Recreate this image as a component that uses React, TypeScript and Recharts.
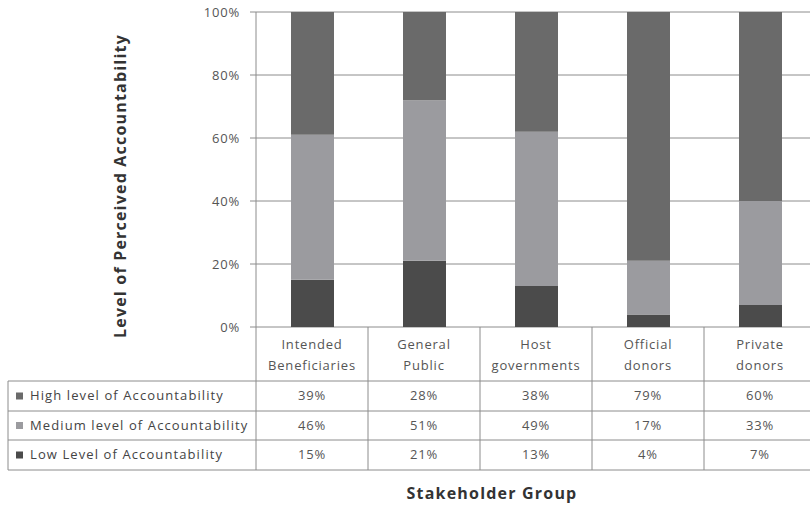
import React from "react";
import { BarChart, Bar, XAxis, YAxis, CartesianGrid } from "recharts";

// stakeholder groups, two-line labels for the table header
const groupNames = [
  "Intended Beneficiaries",
  "General Public",
  "Host governments",
  "Official donors",
  "Private donors",
];
const groupLines = [
  ["Intended", "Beneficiaries"],
  ["General", "Public"],
  ["Host", "governments"],
  ["Official", "donors"],
  ["Private", "donors"],
];

const highLevel = [39, 28, 38, 79, 60];
const mediumLevel = [46, 51, 49, 17, 33];
const lowLevel = [15, 21, 13, 4, 7];

const yTicks = [0, 20, 40, 60, 80, 100];

const seriesInfo = [
  { key: "high", label: "High level of Accountability", color: "#6a6a6a", values: highLevel },
  { key: "medium", label: "Medium level of Accountability", color: "#9b9b9f", values: mediumLevel },
  { key: "low", label: "Low Level of Accountability", color: "#4b4b4b", values: lowLevel },
];

const data = groupNames.map((g, i) => ({
  group: g,
  high: highLevel[i],
  medium: mediumLevel[i],
  low: lowLevel[i],
}));

const W = 816;
const H = 507;
const PLOT_BOTTOM = 327;
const BAND = (W - 256) / groupNames.length;
const ROW_TOPS = [381, 411, 440, 470];
const TABLE_LEFT = 8;
const LINE = "#8c8c8c";
const FONT = "'Open Sans', Lato, sans-serif";
const SPACING = 0.8;

const TableTick = (props: any) => {
  const { x, payload } = props;
  const i = groupNames.indexOf(payload.value);
  const y0 = PLOT_BOTTOM;
  return (
    <g>
      {i === 0 && (
        <line x1={x - BAND / 2} x2={x - BAND / 2} y1={y0} y2={ROW_TOPS[3]} stroke={LINE} />
      )}
      <line x1={x + BAND / 2} x2={x + BAND / 2} y1={y0} y2={ROW_TOPS[3]} stroke={LINE} />
      {groupLines[i].map((t, k) => (
        <text
          key={k}
          x={x}
          y={y0 + 19 + k * 21}
          textAnchor="middle"
          dominantBaseline="middle"
          fontSize={13}
          letterSpacing={SPACING}
          fill="#555"
          fontFamily={FONT}
        >
          {t}
        </text>
      ))}
      {seriesInfo.map((s, r) => (
        <text
          key={s.key}
          x={x}
          y={(ROW_TOPS[r] + ROW_TOPS[r + 1]) / 2 + 1}
          textAnchor="middle"
          dominantBaseline="middle"
          fontSize={13}
          letterSpacing={SPACING}
          fill="#555"
          fontFamily={FONT}
        >
          {s.values[i]}%
        </text>
      ))}
    </g>
  );
};

const App: React.FC = () => {
  return (
    <div
      style={{
        position: "absolute",
        top: 0,
        left: 0,
        width: 810,
        height: H,
        overflow: "hidden",
        background: "#fff",
        fontFamily: FONT,
      }}
    >
      <BarChart
        width={W}
        height={H}
        data={data}
        margin={{ top: 12, right: 0, left: 200, bottom: 0 }}
      >
        <CartesianGrid vertical={false} stroke={LINE} strokeWidth={1} />
        <YAxis
          type="number"
          domain={[0, 100]}
          ticks={yTicks}
          width={56}
          tickFormatter={(v: number) => `${v}%`}
          tickSize={6}
          tickMargin={10}
          axisLine={{ stroke: LINE }}
          tickLine={{ stroke: LINE }}
          tick={{ fill: "#555", fontSize: 13, fontFamily: FONT, letterSpacing: SPACING }}
          interval={0}
        />
        <XAxis
          dataKey="group"
          height={H - PLOT_BOTTOM}
          axisLine={false}
          tickLine={false}
          tickSize={0}
          tickMargin={0}
          interval={0}
          tick={<TableTick />}
        />
        <Bar dataKey="low" stackId="a" fill={seriesInfo[2].color} barSize={43} isAnimationActive={false} />
        <Bar dataKey="medium" stackId="a" fill={seriesInfo[1].color} barSize={43} isAnimationActive={false} />
        <Bar dataKey="high" stackId="a" fill={seriesInfo[0].color} barSize={43} isAnimationActive={false} />
      </BarChart>

      {/* legend column and horizontal rules of the data table */}
      <svg
        width={W}
        height={H}
        style={{ position: "absolute", top: 0, left: 0, pointerEvents: "none" }}
      >
        {ROW_TOPS.map((y) => (
          <line key={y} x1={TABLE_LEFT} x2={W} y1={y} y2={y} stroke={LINE} />
        ))}
        <line x1={TABLE_LEFT} x2={TABLE_LEFT} y1={ROW_TOPS[0]} y2={ROW_TOPS[3]} stroke={LINE} />
        {seriesInfo.map((s, r) => {
          const cy = (ROW_TOPS[r] + ROW_TOPS[r + 1]) / 2;
          return (
            <g key={s.key}>
              <rect x={16} y={cy - 3.5} width={7} height={7} fill={s.color} />
              <text
                x={30}
                y={cy + 1}
                dominantBaseline="middle"
                fontSize={13}
                letterSpacing={1.1}
                fill="#444"
                fontFamily={FONT}
              >
                {s.label}
              </text>
            </g>
          );
        })}
        <text
          x={122}
          y={186}
          transform="rotate(-90 122 186)"
          textAnchor="middle"
          dominantBaseline="middle"
          fontSize={16}
          fontWeight="bold"
          letterSpacing={1.2}
          fill="#333"
          fontFamily={FONT}
        >
          Level of Perceived Accountability
        </text>
        <text
          x={492}
          y={495}
          textAnchor="middle"
          dominantBaseline="middle"
          fontSize={16}
          fontWeight="bold"
          letterSpacing={1.2}
          fill="#333"
          fontFamily={FONT}
        >
          Stakeholder Group
        </text>
      </svg>
    </div>
  );
};

export default App;
